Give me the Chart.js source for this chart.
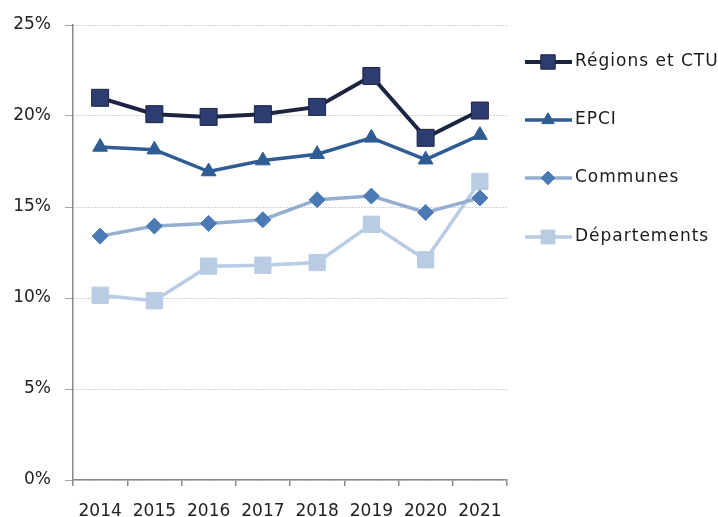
<!DOCTYPE html>
<html lang="fr">
<head>
<meta charset="UTF-8">
<title>Évolution par niveau de collectivité</title>
<script src="https://cdn.jsdelivr.net/npm/chart.js"></script>
<style>
  html, body { margin: 0; padding: 0; background: #fff; }
  #wrap { width: 718px; height: 517px; }
</style>
</head>
<body>
<div id="wrap"><canvas id="chart" width="718" height="517"></canvas></div>
<script>
const years = ['2014', '2015', '2016', '2017', '2018', '2019', '2020', '2021'];
const regions = [21.0, 20.1, 19.95, 20.1, 20.5, 22.2, 18.8, 20.3];
const epci = [18.3, 18.15, 16.95, 17.55, 17.9, 18.8, 17.6, 18.95];
const communes = [13.4, 13.95, 14.1, 14.3, 15.4, 15.6, 14.7, 15.5];
const departements = [10.15, 9.85, 11.75, 11.8, 11.95, 14.05, 12.1, 16.4];
const yTicks = [0, 5, 10, 15, 20, 25];

const font = "'DejaVu Sans', sans-serif";

// legend on the right: a short line with the marker in its middle, then the label
const sideLegend = {
  id: 'sideLegend',
  afterDraw(chart) {
    const ctx = chart.ctx;
    const x0 = chart.chartArea.right + 18;
    const rows = [62, 120, 178, 237];
    ctx.save();
    chart.data.datasets.forEach((ds, i) => {
      const y = rows[i];
      ctx.strokeStyle = ds.borderColor;
      ctx.lineWidth = ds.borderWidth;
      ctx.beginPath();
      ctx.moveTo(x0, y);
      ctx.lineTo(x0 + 47, y);
      ctx.stroke();
      ctx.fillStyle = ds.pointBackgroundColor;
      ctx.strokeStyle = ds.pointBorderColor;
      ctx.lineWidth = ds.pointBorderWidth;
      Chart.helpers.drawPoint(ctx, {
        pointStyle: ds.pointStyle,
        radius: ds.pointRadius * 0.85,
        rotation: 0,
        borderWidth: ds.pointBorderWidth
      }, x0 + 23, y);
      ctx.fillStyle = '#1a1a1a';
      ctx.font = '17px ' + font;
      ctx.letterSpacing = '1px';
      ctx.textBaseline = 'middle';
      ctx.fillText(ds.label, x0 + 50, y);
    });
    ctx.restore();
  }
};

function series(label, data, line, fill, edge, style, radius, width) {
  return {
    label: label,
    data: data,
    borderColor: line,
    borderWidth: width,
    pointStyle: style,
    pointRadius: radius,
    pointHoverRadius: radius,
    pointBackgroundColor: fill,
    pointBorderColor: edge,
    pointBorderWidth: 1,
    tension: 0,
    fill: false
  };
}

new Chart(document.getElementById('chart'), {
  type: 'line',
  data: {
    labels: years,
    datasets: [
      series('Régions et CTU', regions, '#1b2440', '#2d3d72', '#1b2440', 'rect', 12, 4),
      series('EPCI', epci, '#2f5c93', '#2f5c93', '#2f5c93', 'triangle', 8.5, 3.5),
      series('Communes', communes, '#93aed0', '#4a79b4', '#4a79b4', 'rectRot', 8, 3.5),
      series('Départements', departements, '#b9cce4', '#b9cce4', '#b9cce4', 'rect', 11.5, 3.5)
    ]
  },
  options: {
    responsive: false,
    animation: false,
    layout: { padding: { left: 0, top: 25, right: 211, bottom: 0 } },
    plugins: { legend: { display: false }, tooltip: { enabled: false } },
    scales: {
      x: {
        offset: true,
        grid: {
          offset: true,
          drawOnChartArea: false,
          drawTicks: true,
          tickLength: 6,
          color: 'rgba(0,0,0,0)',
          tickColor: '#8a8a8a',
          lineWidth: 1.5
        },
        border: { color: '#8a8a8a', width: 1.5 },
        ticks: { color: '#222', font: { family: font, size: 17 }, padding: 15, maxRotation: 0 },
        afterFit(scale) { scale.height = 37; }
      },
      y: {
        min: 0,
        max: 25,
        afterBuildTicks(scale) { scale.ticks = yTicks.map(v => ({ value: v })); },
        grid: {
          color: '#a6a6a6',
          lineWidth: 1,
          tickLength: 8,
          tickColor: '#a6a6a6'
        },
        // dotted gridlines, solid axis line
        border: { color: '#8a8a8a', width: 1.5, dash: [1, 2] },
        ticks: {
          color: '#222',
          font: { family: font, size: 17 },
          padding: 14,
          callback: v => v + '%'
        },
        afterFit(scale) { scale.width = 73; }
      }
    }
  },
  plugins: [sideLegend]
});
</script>
</body>
</html>
